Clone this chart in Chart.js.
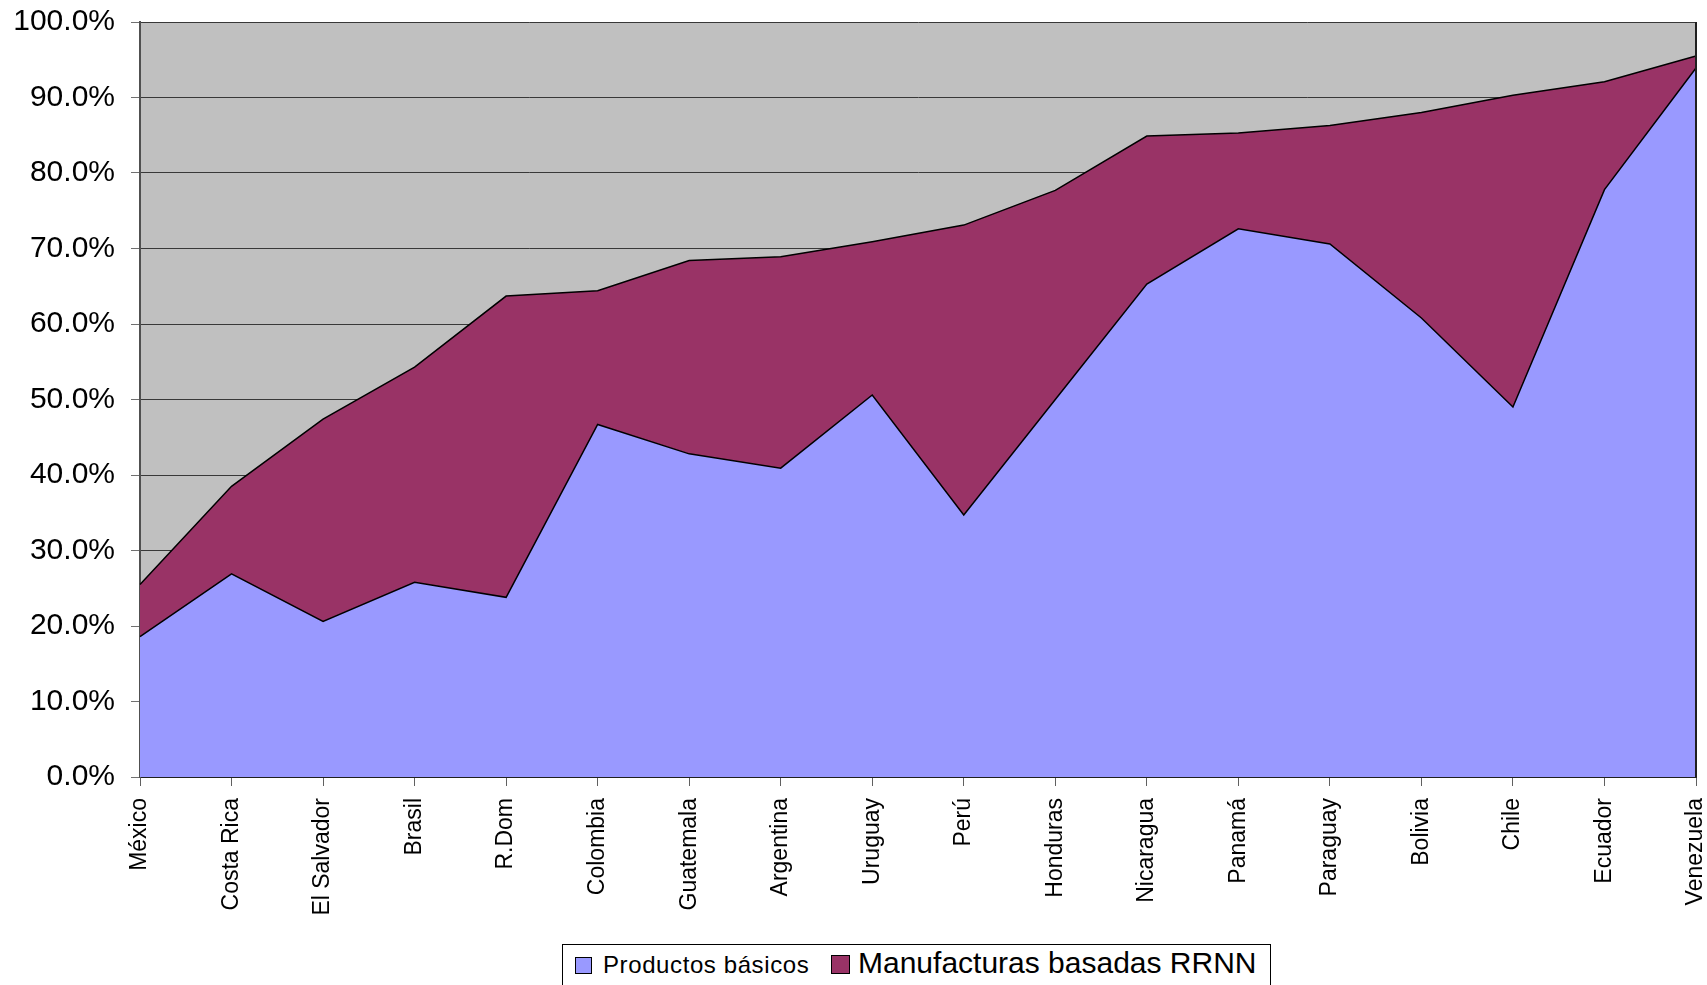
<!DOCTYPE html>
<html>
<head>
<meta charset="utf-8">
<script src="https://cdn.jsdelivr.net/npm/chart.js@4/dist/chart.umd.min.js"></script>
<style>
  html, body { margin: 0; padding: 0; background: #fff; }
  #wrap { position: relative; width: 1707px; height: 985px; overflow: hidden; font-family: "Liberation Sans", Arial, sans-serif; }
  #legend { position: absolute; left: 562px; top: 944px; width: 707px; height: 60px; border: 1px solid #000; background: #fff; }
  .sw { position: absolute; border: 1px solid #000; }
  .lt { position: absolute; color: #000; white-space: nowrap; }
</style>
</head>
<body>
<div id="wrap">
  <canvas id="areaChart" width="1707" height="985"></canvas>
  <div id="legend">
    <div class="sw" style="left:12px;top:12px;width:15px;height:15px;background:#9999FF"></div>
    <span class="lt" style="left:40px;top:6px;font-size:24px;letter-spacing:0.6px">Productos básicos</span>
    <div class="sw" style="left:268px;top:10px;width:17px;height:17px;background:#993366"></div>
    <span class="lt" style="left:295px;top:1px;font-size:30px">Manufacturas basadas RRNN</span>
  </div>
</div>
<script>
var paises = ['México', 'Costa Rica', 'El Salvador', 'Brasil', 'R.Dom', 'Colombia', 'Guatemala', 'Argentina', 'Uruguay',
    'Perú', 'Honduras', 'Nicaragua', 'Panamá', 'Paraguay', 'Bolivia', 'Chile', 'Ecuador', 'Venezuela'];
var productosBasicos = [18.6, 26.9, 20.6, 25.8, 23.8, 46.7, 42.8, 40.9, 50.6, 34.7, 50.0, 65.3, 72.6, 70.6, 60.8, 49.0, 77.8, 93.9];
var manufacturasRRNN = [6.9, 11.6, 26.8, 28.5, 39.9, 17.7, 25.6, 28.0, 20.3, 38.4, 27.7, 19.6, 12.7, 15.7, 27.2, 41.3, 14.3, 1.6];
var ticksY = [0, 10, 20, 30, 40, 50, 60, 70, 80, 90, 100];

// fondo gris del area de trazado
var fondoGris = {
    id: 'fondoGris',
    beforeDraw: function (chart) {
        var a = chart.chartArea, c = chart.ctx;
        c.save();
        c.fillStyle = '#C0C0C0';
        c.fillRect(a.left, a.top, a.right - a.left, a.bottom - a.top);
        c.restore();
    },
    afterDraw: function (chart) {
        var a = chart.chartArea, c = chart.ctx;
        c.save();
        c.strokeStyle = '#202020';
        c.lineWidth = 2;
        c.beginPath();
        c.moveTo(a.right, a.top);
        c.lineTo(a.right, a.bottom);
        c.stroke();
        c.restore();
    }
};

var ctx = document.getElementById('areaChart');
var areaChart = new Chart(ctx, {
    type: 'line',
    data: {
        labels: paises,
        datasets: [{
            label: 'Productos básicos',
            data: productosBasicos,
            backgroundColor: '#9999FF',
            borderColor: '#000',
            borderWidth: 1.5,
            fill: 'origin',
            pointRadius: 0,
            tension: 0
        }, {
            label: 'Manufacturas basadas RRNN',
            data: manufacturasRRNN,
            backgroundColor: '#993366',
            borderColor: '#000',
            borderWidth: 1.5,
            fill: '-1',
            pointRadius: 0,
            tension: 0
        }]
    },
    options: {
        responsive: false,
        animation: false,
        layout: { padding: { left: 0, right: 11, top: 22, bottom: 0 } },
        plugins: {
            legend: { display: false },
            tooltip: { enabled: false }
        },
        scales: {
            x: {
                offset: false,
                grid: { drawOnChartArea: false, drawTicks: true, tickLength: 9, color: '#606060' },
                border: { color: '#202020', width: 2 },
                ticks: {
                    autoSkip: false, minRotation: 90, maxRotation: 90, padding: 12,
                    color: '#000', font: { family: 'Liberation Sans', size: 23 }
                },
                afterFit: function (s) { s.height = 208; s.paddingLeft = 0; s.paddingRight = 0; }
            },
            y: {
                stacked: true,
                min: 0,
                max: 100,
                afterBuildTicks: function (s) { s.ticks = ticksY.map(function (v) { return { value: v }; }); },
                grid: { color: '#383838', lineWidth: 1, tickLength: 9, tickColor: '#707070' },
                border: { color: '#505050', width: 2 },
                ticks: {
                    padding: 16,
                    color: '#000',
                    font: { family: 'Liberation Sans', size: 30 },
                    callback: function (v) { return v.toFixed(1) + '%'; }
                },
                afterFit: function (s) { s.width = 140; s.paddingTop = 0; s.paddingBottom = 0; }
            }
        }
    },
    plugins: [fondoGris]
});
</script>
</body>
</html>
